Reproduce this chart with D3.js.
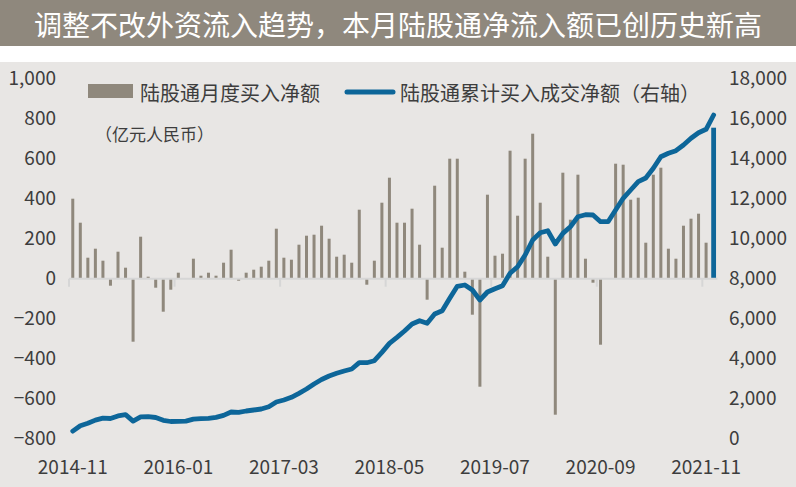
<!DOCTYPE html>
<html><head><meta charset="utf-8">
<script src="https://cdn.jsdelivr.net/npm/d3@7"></script>
<style>body{margin:0;background:#fff}svg{display:block}text{font-family:"Noto Sans CJK SC","Noto Sans",sans-serif}</style>
</head><body><svg id="c" width="796" height="487"></svg>
<script>
const title = "调整不改外资流入趋势，本月陆股通净流入额已创历史新高";
const barName = "陆股通月度买入净额";
const lineName = "陆股通累计买入成交净额（右轴）";
const unitLabel = "（亿元人民币）";
const startMonth = "2014-11", monthCount = 86;
const tickLabels = ["2014-11","2016-01","2017-03","2018-05","2019-07","2020-09","2021-11"];
const leftTicks = [-800,-600,-400,-200,0,200,400,600,800,1000];
const rightTicks = [0,2000,4000,6000,8000,10000,12000,14000,16000,18000];
const monthlyNet = [400,280,105,150,90,-35,135,55,-315,210,10,-45,-165,-55,30,0,100,15,30,15,80,145,-10,30,45,60,90,250,105,95,170,215,220,265,200,110,120,80,345,-30,90,380,505,280,280,350,170,-105,465,155,600,600,35,-180,-540,420,115,125,640,315,600,725,380,110,-680,530,295,520,100,-20,-330,0,575,570,395,405,180,520,555,150,100,265,300,325,180,755];
const cumulative = [380,650,770,930,1030,1010,1140,1200,880,1090,1100,1060,920,860,870,880,975,1000,1015,1065,1165,1335,1315,1385,1435,1485,1600,1835,1935,2070,2270,2485,2735,2960,3135,3270,3385,3485,3800,3800,3900,4315,4765,5065,5385,5735,5900,5770,6235,6400,7020,7620,7685,7435,6935,7335,7500,7650,8270,8600,9185,9935,10300,10400,9735,10265,10600,11100,11200,11185,10850,10850,11435,12020,12435,12850,13035,13520,14100,14270,14400,14685,15020,15300,15470,16185];

const fmtM = d3.timeFormat("%Y-%m");
const start = d3.timeParse("%Y-%m")(startMonth);
const months = d3.range(monthCount).map(i => fmtM(d3.timeMonth.offset(start, i)));

const BAR = "#8f887c", BLUE = "#0d6699", TXT = "#3d3d3d";
const svg = d3.select("#c");
svg.append("rect").attr("x",0).attr("y",0).attr("width",796).attr("height",46).attr("fill","#8f887d");
svg.append("text").attr("x",398).attr("y",24).attr("text-anchor","middle").attr("dominant-baseline","central")
  .attr("fill","#fff").attr("font-size",28).text(title);
svg.append("rect").attr("x",0).attr("y",62).attr("width",796).attr("height",425).attr("fill","#e8e6e4");

const x = d3.scaleBand().domain(months).range([69, 717.4]);
const yL = d3.scaleLinear().domain([-800,1000]).range([438.7,78.7]);
const yR = d3.scaleLinear().domain([0,18000]).range([438.7,78.7]);

// left axis
const gl = svg.append("g").attr("transform","translate(56,0)")
  .call(d3.axisLeft(yL).tickValues(leftTicks).tickSize(0).tickPadding(0).tickFormat(d3.format(",")));
gl.select(".domain").remove();
gl.selectAll("text").attr("font-size",19).attr("fill",TXT).attr("font-family",'"Noto Sans CJK SC",sans-serif');
// right axis
const gr = svg.append("g").attr("transform","translate(729,0)")
  .call(d3.axisRight(yR).tickValues(rightTicks).tickSize(0).tickPadding(0).tickFormat(d3.format(",")));
gr.select(".domain").remove();
gr.selectAll("text").attr("font-size",19).attr("fill",TXT).attr("font-family",'"Noto Sans CJK SC",sans-serif');

// bars
const bw = 3;
svg.append("g").selectAll("rect").data(monthlyNet.slice(0,-1)).join("rect")
  .attr("x",(d,i)=>x(months[i])+x.bandwidth()/2-bw/2).attr("width",bw)
  .attr("y",d=>yL(Math.max(0,d))).attr("height",d=>Math.abs(yL(d)-yL(0)))
  .attr("fill",BAR);
const li = monthlyNet.length-1;
svg.append("rect").attr("x",x(months[li])+x.bandwidth()/2-2.4).attr("width",4.8)
  .attr("y",yL(Math.max(0,monthlyNet[li]))).attr("height",Math.abs(yL(monthlyNet[li])-yL(0))).attr("fill",BLUE);

// x axis
svg.append("line").attr("x1",69).attr("x2",717.4).attr("y1",yL(0)).attr("y2",yL(0)).attr("stroke","#d6d6d6").attr("stroke-width",2);
const ga = svg.append("g");
tickLabels.forEach(t=>{
  const xi = x(t);
  ga.append("line").attr("x1",xi).attr("x2",xi).attr("y1",yL(0)).attr("y2",yL(0)+8).attr("stroke","#d6d6d6").attr("stroke-width",2);
  ga.append("text").attr("x",xi+x.bandwidth()/2).attr("y",465).attr("text-anchor","middle").attr("dominant-baseline","central")
    .attr("font-size",19).attr("fill",TXT).text(t);
});

// line
svg.append("path").datum(cumulative).attr("fill","none").attr("stroke",BLUE).attr("stroke-width",4.8)
  .attr("stroke-linejoin","round").attr("stroke-linecap","round")
  .attr("d",d3.line().x((d,i)=>x(months[i])+x.bandwidth()/2).y(d=>yR(d)));

// legend
svg.append("rect").attr("x",88).attr("y",84).attr("width",45).attr("height",14).attr("fill",BAR);
svg.append("text").attr("x",140).attr("y",92).attr("dominant-baseline","central").attr("font-size",20).attr("fill",TXT).text(barName);
svg.append("line").attr("x1",347).attr("x2",393).attr("y1",92).attr("y2",92).attr("stroke",BLUE).attr("stroke-width",5).attr("stroke-linecap","round");
svg.append("text").attr("x",400).attr("y",92).attr("dominant-baseline","central").attr("font-size",20).attr("fill",TXT).text(lineName);
svg.append("text").attr("x",95).attr("y",133).attr("dominant-baseline","central").attr("font-size",17).attr("fill",TXT).text(unitLabel);
</script></body></html>
